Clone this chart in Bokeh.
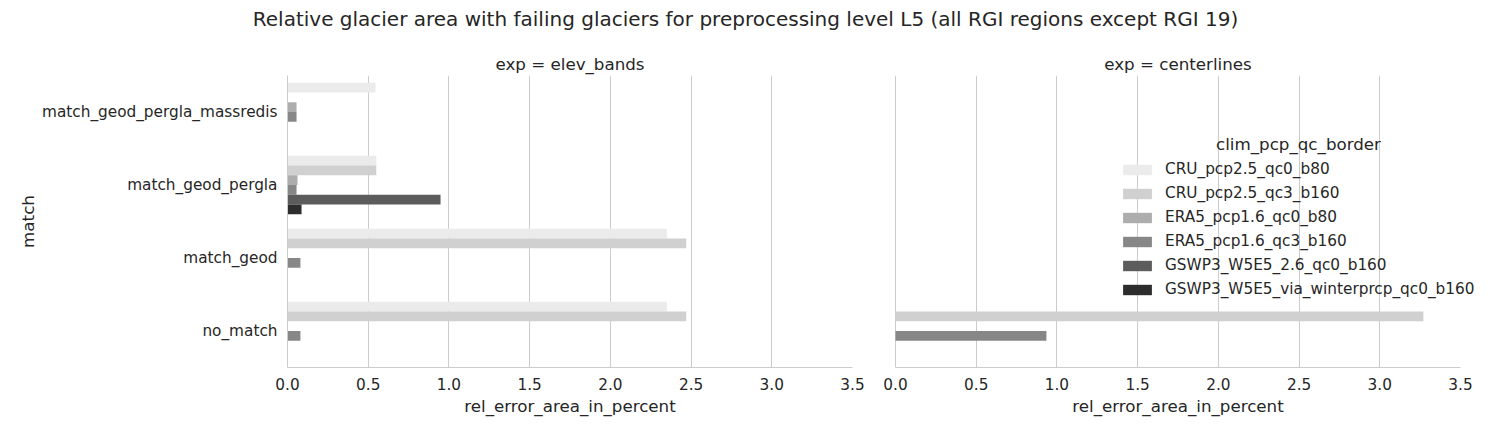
from bokeh.plotting import figure
from bokeh.layouts import column, row
from bokeh.models import (ColumnDataSource, FactorRange, Range1d, FixedTicker, Label,
                          Legend, LegendItem)
from bokeh.transform import dodge
from bokeh.embed import file_html
from bokeh.resources import INLINE

# ---------------- data ----------------
suptitle = "Relative glacier area with failing glaciers for preprocessing level L5 (all RGI regions except RGI 19)"
panels = ["elev_bands", "centerlines"]
# categories, top to bottom as in the reference
matches = ["match_geod_pergla_massredis", "match_geod_pergla", "match_geod", "no_match"]
hues = ["CRU_pcp2.5_qc0_b80", "CRU_pcp2.5_qc3_b160", "ERA5_pcp1.6_qc0_b80",
        "ERA5_pcp1.6_qc3_b160", "GSWP3_W5E5_2.6_qc0_b160", "GSWP3_W5E5_via_winterprcp_qc0_b160"]
hue_colors = ["#ebebeb", "#d0d0d0", "#adadad", "#878787", "#5c5c5c", "#2d2d2d"]

# values per hue, in the order of `matches`
elev_CRU_qc0 = [0.545, 0.55, 2.35, 2.35]
elev_CRU_qc3 = [0.0, 0.55, 2.47, 2.47]
elev_ERA5_qc0 = [0.056, 0.062, 0.0, 0.0]
elev_ERA5_qc3 = [0.056, 0.056, 0.08, 0.08]
elev_GSWP3_26 = [0.0, 0.948, 0.0, 0.0]
elev_GSWP3_wint = [0.0, 0.087, 0.0, 0.0]

cent_CRU_qc0 = [0.0, 0.0, 0.0, 0.0]
cent_CRU_qc3 = [0.0, 0.0, 0.0, 3.27]
cent_ERA5_qc0 = [0.0, 0.0, 0.0, 0.0]
cent_ERA5_qc3 = [0.0, 0.0, 0.0, 0.935]
cent_GSWP3_26 = [0.0, 0.0, 0.0, 0.0]
cent_GSWP3_wint = [0.0, 0.0, 0.0, 0.0]

x_ticks = [0.0, 0.5, 1.0, 1.5, 2.0, 2.5, 3.0, 3.5]
x_tick_labels = ["0.0", "0.5", "1.0", "1.5", "2.0", "2.5", "3.0", "3.5"]
x_min, x_max = 0.0, 3.5
x_label = "rel_error_area_in_percent"
y_label = "match"
legend_title = "clim_pcp_qc_border"

panel_values = {
    "elev_bands": [elev_CRU_qc0, elev_CRU_qc3, elev_ERA5_qc0, elev_ERA5_qc3, elev_GSWP3_26, elev_GSWP3_wint],
    "centerlines": [cent_CRU_qc0, cent_CRU_qc3, cent_ERA5_qc0, cent_ERA5_qc3, cent_GSWP3_26, cent_GSWP3_wint],
}

# ---------------- style ----------------
FONT = "DejaVu Sans"
TXT = "#262626"
GRID = "#cccccc"
n_h = len(hues)
bar_h = 0.8 / n_h
PANEL_H = 394
AXIS_W = 565       # drawn axis length in px
FRAME_H = 292


def make_panel(name, show_y, width, min_left, pad):
    # pad: px of frame kept on both sides of the drawn axis (room for the legend text,
    # keeps titles centred on the axis)
    span = x_max - x_min
    d = span * pad / AXIS_W
    p = figure(width=width, height=PANEL_H, output_backend="svg", toolbar_location=None,
               y_range=FactorRange(factors=list(reversed(matches)), range_padding=0),
               x_range=Range1d(x_min - d, x_max + d),
               min_border_left=min_left,
               min_border_right=width - min_left - AXIS_W - 2 * pad,
               min_border_top=37, min_border_bottom=PANEL_H - 37 - FRAME_H,
               title="exp = " + name)
    p.title.align = "center"
    p.title.text_font = FONT
    p.title.text_font_size = "16.7px"
    p.title.text_font_style = "normal"
    p.title.text_color = TXT
    p.title.standoff = 4
    p.outline_line_color = None
    p.background_fill_color = "white"
    p.border_fill_color = "white"

    src = {"match": matches}
    for i, h in enumerate(hues):
        src[h] = panel_values[name][i]
    source = ColumnDataSource(src)
    renderers = []
    for i, (h, c) in enumerate(zip(hues, hue_colors)):
        off = 0.4 - bar_h / 2 - i * bar_h
        r = p.hbar(y=dodge("match", off, range=p.y_range), right=h, left=0, height=bar_h,
                   source=source, fill_color=c, line_color=None)
        renderers.append(r)

    p.xaxis.ticker = FixedTicker(ticks=x_ticks)
    p.xaxis.major_label_overrides = {t: l for t, l in zip(x_ticks, x_tick_labels)}
    p.xaxis.axis_label = x_label
    p.xaxis.bounds = (x_min, x_max)
    p.xgrid.ticker = FixedTicker(ticks=x_ticks[:-1])
    p.xgrid.grid_line_color = GRID
    p.xgrid.grid_line_width = 1
    p.ygrid.grid_line_color = None
    for ax in p.xaxis + p.yaxis:
        ax.axis_line_color = GRID
        ax.axis_line_width = 1
        ax.major_tick_line_color = None
        ax.minor_tick_line_color = None
        ax.major_tick_out = 0
        ax.major_tick_in = 0
        ax.minor_tick_out = 0
        ax.minor_tick_in = 0
        ax.major_label_text_font = FONT
        ax.major_label_text_font_size = "15.3px"
        ax.major_label_text_color = TXT
        ax.axis_label_text_font = FONT
        ax.axis_label_text_font_size = "16.7px"
        ax.axis_label_text_font_style = "normal"
        ax.axis_label_text_color = TXT
    p.xaxis.major_label_standoff = 10
    p.xaxis.axis_label_standoff = 3
    p.yaxis.major_label_standoff = 10
    p.yaxis.axis_label_standoff = 1
    if show_y:
        p.yaxis.axis_label = y_label
    else:
        p.yaxis.visible = False
    return p, renderers


p1, r1 = make_panel("elev_bands", True, 865, 287, 0)
p2, r2 = make_panel("centerlines", False, 625, 0, 30)

legend = Legend(items=[LegendItem(label=h, renderers=[r]) for h, r in zip(hues, r2)],
                location=(254, 69), orientation="vertical",
                glyph_width=36, glyph_height=13, label_height=13, spacing=6,
                label_standoff=10, padding=0, margin=0,
                label_text_font=FONT, label_text_font_size="15.3px", label_text_color=TXT,
                background_fill_alpha=0, border_line_alpha=0)
p2.add_layout(legend, "center")
p2.add_layout(Label(x=433, y=224, x_units="screen", y_units="screen", text=legend_title,
                    text_align="center", text_baseline="middle", text_font=FONT,
                    text_font_size="16.7px", text_color=TXT))

head = figure(width=1490, height=38, output_backend="svg", toolbar_location=None,
              x_range=Range1d(0, 1), y_range=Range1d(0, 1),
              min_border=0, outline_line_color=None)
head.axis.visible = False
head.grid.visible = False
head.add_layout(Label(x=745, y=20, x_units="screen", y_units="screen", text=suptitle,
                      text_align="center", text_baseline="middle", text_font=FONT,
                      text_font_size="20px", text_color=TXT))

layout = column(head, row(p1, p2))
open("out.html", "w").write(file_html(layout, INLINE))
